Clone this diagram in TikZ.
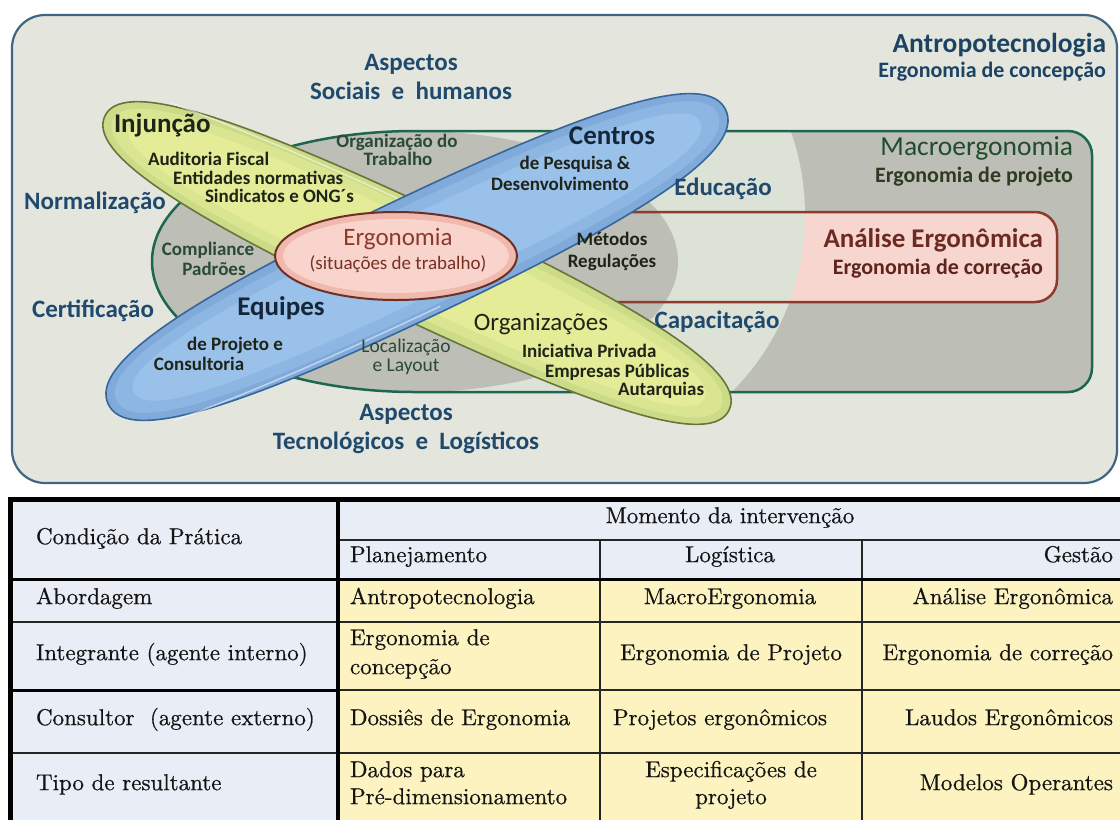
\documentclass[tikz,border=0pt]{standalone}
\usepackage{fontspec}
\newfontfamily\calfont{Carlito}
\newfontfamily\tabfont{lmroman10-regular.otf}[FakeBold=0.6]
\definecolor{outerfill}{HTML}{E4E6DE}
\definecolor{lightfill}{HTML}{DDE2D7}
\definecolor{grayfill}{HTML}{BDBEB5}
\definecolor{macroborder}{HTML}{1E6650}
\definecolor{bandfill}{HTML}{F6D6CF}
\definecolor{bandborder}{HTML}{8E3A2C}
\definecolor{yelE}{HTML}{CCDB88}
\definecolor{yelM}{HTML}{D9E590}
\definecolor{yelC}{HTML}{E4EC98}
\definecolor{yelB}{HTML}{66763A}
\definecolor{bluE}{HTML}{80AADA}
\definecolor{bluM}{HTML}{8DB6E3}
\definecolor{bluC}{HTML}{99C1EA}
\definecolor{bluB}{HTML}{36669A}
\definecolor{pinkC}{HTML}{F8D4CC}
\definecolor{pinkE}{HTML}{EFB9AE}
\definecolor{pinkB}{HTML}{6C2F24}
\definecolor{navy}{HTML}{1F4A6E}
\definecolor{panelborder}{HTML}{3E6682}
\definecolor{dgreen}{HTML}{2A4A38}
\definecolor{dnavy}{HTML}{15263A}
\definecolor{dolive}{HTML}{1F2418}
\definecolor{macrotxt}{HTML}{1F4D2E}
\definecolor{macrosub}{HTML}{2E3B22}
\definecolor{ergtxt}{HTML}{8B3A2B}
\definecolor{analtxt}{HTML}{6E2A22}
\definecolor{tabblue}{HTML}{E9EEF6}
\definecolor{tabyel}{HTML}{FCF3C0}
\definecolor{tabtxt}{HTML}{141414}
\begin{document}
\begin{tikzpicture}[x=1pt,y=1pt,
  every node/.style={inner sep=0pt, outer sep=0pt},
  macroshape/.style={insert path={(415,-131) -- (1068,-131) arc[start angle=90, end angle=0, radius=24] -- (1092,-368) arc[start angle=0, end angle=-90, radius=24] -- (415,-392) arc[start angle=270, end angle=90, x radius=263, y radius=130.5] -- cycle}},
  blob/.style n args={3}{insert path={(#1,0) .. controls (#1,#3*#2) and (#3*#1,#2) .. (0,#2) .. controls (-#3*#1,#2) and (-#1,#3*#2) .. (-#1,0) .. controls (-#1,-#3*#2) and (-#3*#1,-#2) .. (0,-#2) .. controls (#3*#1,-#2) and (#1,-#3*#2) .. (#1,0) -- cycle}},
  asp/.style={font={\calfont\bfseries\fontsize{25}{28}\selectfont}, text=navy},
  big/.style={font={\calfont\bfseries\fontsize{27}{30}\selectfont}},
  sm/.style={font={\calfont\bfseries\fontsize{19}{22}\selectfont}},
  smreg/.style={font={\calfont\fontsize{19.5}{22}\selectfont}},
  bigreg/.style={font={\calfont\fontsize{25}{28}\selectfont}},
  tab/.style={font={\tabfont\fontsize{23}{26}\selectfont}, text=tabtxt},
  thickrule/.style={line width=4pt, black},
  thinrule/.style={line width=2pt, black!85}
]
\useasboundingbox (0,0) rectangle (1120,-820);
\fill[white] (0,0) rectangle (1120,-820);
% ---------- panel
\draw[panelborder, line width=2.2pt, fill=outerfill, rounded corners=33pt] (12,-15) rectangle (1117,-483);
% ---------- macro region
\fill[grayfill, macroshape];
\fill[bandfill, rounded corners=22pt] (396,-212) rectangle (1057,-302);
\begin{scope}
  \clip[macroshape];
  \fill[lightfill] (555,-215) ellipse[x radius=250, y radius=250];
\end{scope}
\fill[grayfill] (415,-261.5) ellipse[x radius=263, y radius=130.5];
\draw[macroborder, line width=2.5pt, macroshape];
\draw[bandborder, line width=2.5pt] (396,-212) -- (1035,-212) arc[start angle=90, end angle=0, radius=22] -- (1057,-280) arc[start angle=0, end angle=-90, radius=22] -- (396,-302);
% ---------- yellow shape
\begin{scope}[shift={(417,-263)}, rotate=-25.2]
  \draw[yelB, line width=1.6pt, fill=yelE, blob={345}{56}{0.7}];
  \fill[yelM, blob={336}{48}{0.7}];
  \fill[yelC, blob={318}{38}{0.7}];
  \draw[white, opacity=0.5, line width=1.5pt] (-290,40) .. controls (-200,48) and (-100,50) .. (0,50.5);
\end{scope}
% ---------- blue shape
\begin{scope}[shift={(417,-257)}, rotate=25.5]
  \draw[bluB, line width=1.6pt, fill=bluE, blob={342}{60}{0.7}];
  \fill[bluM, blob={333}{51}{0.7}];
  \fill[bluC, blob={314}{40}{0.7}];
  \draw[white, opacity=0.5, line width=1.5pt] (-290,-43) .. controls (-200,-52) and (-100,-54) .. (0,-54.5);
\end{scope}
% ---------- ergonomia ellipse
\draw[pinkB, line width=2pt, fill=pinkE] (396,-256) ellipse[x radius=121, y radius=44];
\fill[pinkC] (396,-256) ellipse[x radius=113, y radius=37];
% ---------- texts
\node[asp, anchor=mid] (asp1) at (411,-68) {Aspectos};
\node[asp, anchor=mid] (asp2) at (411,-97) {Sociais~~e~~humanos};
\node[asp, anchor=mid] (asp3) at (406,-418) {Aspectos};
\node[asp, anchor=mid] (asp4) at (406,-447) {Tecnológicos~~e~~Logísticos};
\node[font={\calfont\bfseries\fontsize{27.5}{30}\selectfont}, text=navy!90!black, anchor=mid east] (antro) at (1106,-50) {Antropotecnologia};
\node[font={\calfont\bfseries\fontsize{22}{25}\selectfont}, text=navy!90!black, anchor=mid east] (antro2) at (1106,-75) {Ergonomia de concepção};
\node[big, text=dolive, anchor=mid west] (inj) at (114,-130) {Injunção};
\node[sm, text=dolive, anchor=mid west] (inj1) at (148,-163) {Auditoria Fiscal};
\node[sm, text=dolive, anchor=mid west] (inj2) at (173,-182) {Entidades normativas};
\node[sm, text=dolive, anchor=mid west] (inj3) at (205,-200) {Sindicatos e ONG´s};
\node[sm, text=dgreen, anchor=mid] (org1) at (397,-145) {Organização do};
\node[sm, text=dgreen, anchor=mid] (org2) at (398,-163) {Trabalho};
\node[big, text=dnavy, anchor=mid] (cen) at (612,-142) {Centros};
\node[sm, text=dolive, anchor=mid] (cen1) at (575,-167) {de Pesquisa \&};
\node[sm, text=dolive, anchor=mid] (cen2) at (560,-188) {Desenvolvimento};
\node[asp, anchor=mid] (edu) at (723,-193) {Educação};
\node[asp, anchor=mid] (norm) at (95,-207) {Normalização};
\node[font={\calfont\fontsize{27.5}{30}\selectfont}, text=macrotxt, anchor=mid east] (mac1) at (1073,-153) {Macroergonomia};
\node[font={\calfont\bfseries\fontsize{22}{25}\selectfont}, text=macrosub, anchor=mid east] (mac2) at (1073,-180) {Ergonomia de projeto};
\node[sm, text=dgreen, anchor=mid] (comp1) at (208,-253) {Compliance};
\node[sm, text=dgreen, anchor=mid] (comp2) at (214,-273) {Padrões};
\node[bigreg, text=ergtxt, anchor=mid] (erg1) at (398,-243) {Ergonomia};
\node[font={\calfont\fontsize{19}{22}\selectfont}, text=ergtxt!85!black, anchor=mid] (erg2) at (398,-267) {(situações de trabalho)};
\node[sm, text=dolive, anchor=mid] (met1) at (612,-243) {Métodos};
\node[sm, text=dolive, anchor=mid] (met2) at (612,-265) {Regulações};
\node[font={\calfont\bfseries\fontsize{27}{30}\selectfont}, text=analtxt, anchor=mid east] (ana1) at (1043,-245) {Análise Ergonômica};
\node[font={\calfont\bfseries\fontsize{22}{25}\selectfont}, text=analtxt!85!black, anchor=mid east] (ana2) at (1043,-272) {Ergonomia de correção};
\node[asp, anchor=mid] (cert) at (93,-315) {Certificação};
\node[big, text=dnavy, anchor=mid] (equ) at (281,-313) {Equipes};
\node[sm, text=dolive, anchor=mid] (equ1) at (235,-348) {de Projeto e};
\node[sm, text=dolive, anchor=mid] (equ2) at (199,-368) {Consultoria};
\node[smreg, text=dgreen, anchor=mid] (loc1) at (406,-350) {Localização};
\node[smreg, text=dgreen, anchor=mid] (loc2) at (406,-369) {e Layout};
\node[bigreg, text=dolive, anchor=mid] (orgz) at (541,-328) {Organizações};
\node[asp, anchor=mid] (cap) at (717,-326) {Capacitação};
\node[sm, text=dolive, anchor=mid west] (orgz1) at (522,-355) {Iniciativa Privada};
\node[sm, text=dolive, anchor=mid west] (orgz2) at (545,-375) {Empresas Públicas};
\node[sm, text=dolive, anchor=mid west] (orgz3) at (618,-393) {Autarquias};
% ---------- table
\fill[tabblue] (10,-499) rectangle (1120,-579);
\fill[tabblue] (10,-579) rectangle (338,-820);
\fill[tabyel] (338,-579) rectangle (1120,-820);
\draw[thinrule, line width=1.5pt] (338,-540) -- (1120,-540);
\draw[thinrule] (600,-540) -- (600,-820);
\draw[thinrule] (862,-540) -- (862,-820);
\draw[black, line width=3pt] (10,-579) -- (1120,-579);
\draw[thinrule] (10,-622) -- (1120,-622);
\draw[black, line width=3pt] (10,-690) -- (338,-690);
\draw[thinrule] (338,-690) -- (1120,-690);
\draw[thinrule] (10,-753) -- (1120,-753);
\draw[thickrule] (338,-499) -- (338,-820);
\draw[black, line width=5pt] (10,-820) -- (10,-499) -- (1120,-499);
\node[tab, anchor=mid west] (c00) at (36,-542) {Condição da Prática};
\node[tab, anchor=mid] (h0) at (730,-521) {Momento da intervenção};
\node[tab, anchor=mid west] (h1) at (350,-560) {Planejamento};
\node[tab, anchor=mid] (h2) at (730,-560) {Logística};
\node[tab, anchor=mid east] (h3) at (1113,-560) {Gestão};
\node[tab, anchor=mid west] (r1) at (36,-602) {Abordagem};
\node[tab, anchor=mid west] (r1a) at (350,-602) {Antropotecnologia};
\node[tab, anchor=mid] (r1b) at (730,-602) {MacroErgonomia};
\node[tab, anchor=mid east] (r1c) at (1113,-602) {Análise Ergonômica};
\node[tab, anchor=mid west] (r2) at (36,-658) {Integrante (agente interno)};
\node[tab, anchor=mid west] (r2a1) at (350,-643) {Ergonomia de};
\node[tab, anchor=mid west] (r2a2) at (350,-672) {concepção};
\node[tab, anchor=mid] (r2b) at (731,-658) {Ergonomia de Projeto};
\node[tab, anchor=mid east] (r2c) at (1113,-658) {Ergonomia de correção};
\node[tab, anchor=mid west] (r3) at (36,-723) {Consultor~~(agente externo)};
\node[tab, anchor=mid west] (r3a) at (350,-723) {Dossiês de Ergonomia};
\node[tab, anchor=mid] (r3b) at (720,-723) {Projetos ergonômicos};
\node[tab, anchor=mid east] (r3c) at (1113,-723) {Laudos Ergonômicos};
\node[tab, anchor=mid west] (r4) at (36,-788) {Tipo de resultante};
\node[tab, anchor=mid west] (r4a1) at (350,-775) {Dados para};
\node[tab, anchor=mid west] (r4a2) at (350,-802) {Pré-dimensionamento};
\node[tab, anchor=mid] (r4b1) at (731,-775) {Especificações de};
\node[tab, anchor=mid] (r4b2) at (731,-802) {projeto};
\node[tab, anchor=mid east] (r4c) at (1113,-788) {Modelos Operantes};
\end{tikzpicture}
\end{document}
